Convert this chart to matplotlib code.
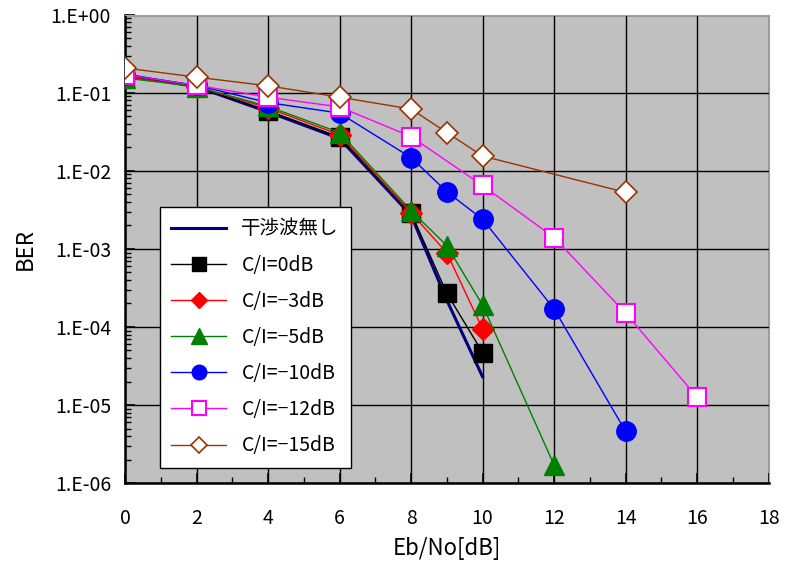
import matplotlib
matplotlib.use("Agg")
import matplotlib.pyplot as plt
from matplotlib.ticker import FixedLocator, MultipleLocator, LogLocator, NullFormatter

plt.rcParams['font.family'] = ['Noto Sans CJK JP', 'DejaVu Sans']

# data (Eb/No [dB] vs BER)
x_none = [0, 2, 4, 6, 8, 9, 10]
ber_none = [0.17, 0.12, 0.057, 0.026, 0.0027, 2.2e-4, 2.3e-5]

x_0 = [0, 2, 4, 6, 8, 9, 10]
ber_0 = [0.165, 0.12, 0.059, 0.027, 0.0029, 2.7e-4, 4.7e-5]

x_3 = [0, 2, 4, 6, 8, 9, 10]
ber_3 = [0.16, 0.12, 0.064, 0.029, 0.0029, 8.9e-4, 9.4e-5]

x_5 = [0, 2, 4, 6, 8, 9, 10, 12]
ber_5 = [0.155, 0.12, 0.067, 0.031, 0.0031, 1.1e-3, 1.9e-4, 1.7e-6]

x_10 = [0, 2, 4, 6, 8, 9, 10, 12, 14]
ber_10 = [0.17, 0.125, 0.075, 0.055, 0.0148, 0.0054, 0.0024, 1.7e-4, 4.6e-6]

x_12 = [0, 2, 4, 6, 8, 10, 12, 14, 16]
ber_12 = [0.17, 0.125, 0.088, 0.066, 0.0275, 0.0065, 0.0014, 1.5e-4, 1.26e-5]

x_15 = [0, 2, 4, 6, 8, 9, 10, 14]
ber_15 = [0.208, 0.159, 0.123, 0.088, 0.062, 0.031, 0.0155, 0.0053]

y_ticks = [1e0, 1e-1, 1e-2, 1e-3, 1e-4, 1e-5, 1e-6]
y_labels = ['1.E+00', '1.E-01', '1.E-02', '1.E-03', '1.E-04', '1.E-05', '1.E-06']

fig = plt.figure(figsize=(7.86, 5.69), dpi=100)
ax = fig.add_axes([0.159, 0.151, 0.819, 0.823])
ax.set_facecolor('#C0C0C0')

ax.plot(x_none, ber_none, color='#000080', lw=2.2, label='干渉波無し', zorder=3)
ax.plot(x_0, ber_0, color='black', lw=1, marker='s', ms=13, label='C/I=0dB', zorder=4)
ax.plot(x_3, ber_3, color='red', lw=1, marker='D', ms=11, label='C/I=\u22123dB', zorder=4)
ax.plot(x_5, ber_5, color='green', lw=1, marker='^', ms=15, label='C/I=\u22125dB', zorder=4)
ax.plot(x_10, ber_10, color='blue', lw=1, marker='o', ms=14, label='C/I=\u221210dB', zorder=4)
ax.plot(x_12, ber_12, color='#FF00FF', lw=1, marker='s', ms=13, mfc='white',
        mew=1.5, label='C/I=\u221212dB', zorder=4)
ax.plot(x_15, ber_15, color='#993300', lw=1, marker='D', ms=11, mfc='white',
        mew=1.2, label='C/I=\u221215dB', zorder=4)

ax.set_yscale('log')
ax.set_ylim(1e-6, 1e0)
ax.set_xlim(0, 18)
ax.xaxis.set_major_locator(MultipleLocator(2))
ax.xaxis.set_minor_locator(MultipleLocator(1))
ax.yaxis.set_major_locator(FixedLocator(y_ticks))
ax.set_yticklabels(y_labels)
ax.yaxis.set_minor_locator(LogLocator(base=10, subs=range(2, 10), numticks=20))
ax.yaxis.set_minor_formatter(NullFormatter())

ax.grid(True, which='major', color='black', lw=1, zorder=1)
ax.set_axisbelow(True)
ax.tick_params(which='both', direction='in', labelsize=14)
ax.tick_params(which='major', length=7, width=1.2)
ax.tick_params(which='minor', length=4, width=1)
ax.tick_params(axis='x', pad=18)
ax.tick_params(axis='y', pad=10)

for side in ['left', 'bottom']:
    ax.spines[side].set_linewidth(1.8)
for side in ['top', 'right']:
    ax.spines[side].set_color('#A0A0A0')

ax.set_xlabel('Eb/No[dB]', fontsize=16, labelpad=6)
ax.set_ylabel('BER', fontsize=16, labelpad=10)

leg = ax.legend(loc='lower left', bbox_to_anchor=(0.054, 0.032), fontsize=14,
                fancybox=False, edgecolor='black', framealpha=1,
                markerscale=0.75, handlelength=2.8, labelspacing=0.78,
                borderpad=0.6, borderaxespad=0)
leg.get_frame().set_linewidth(1)

fig.savefig('out.png', dpi=100)
